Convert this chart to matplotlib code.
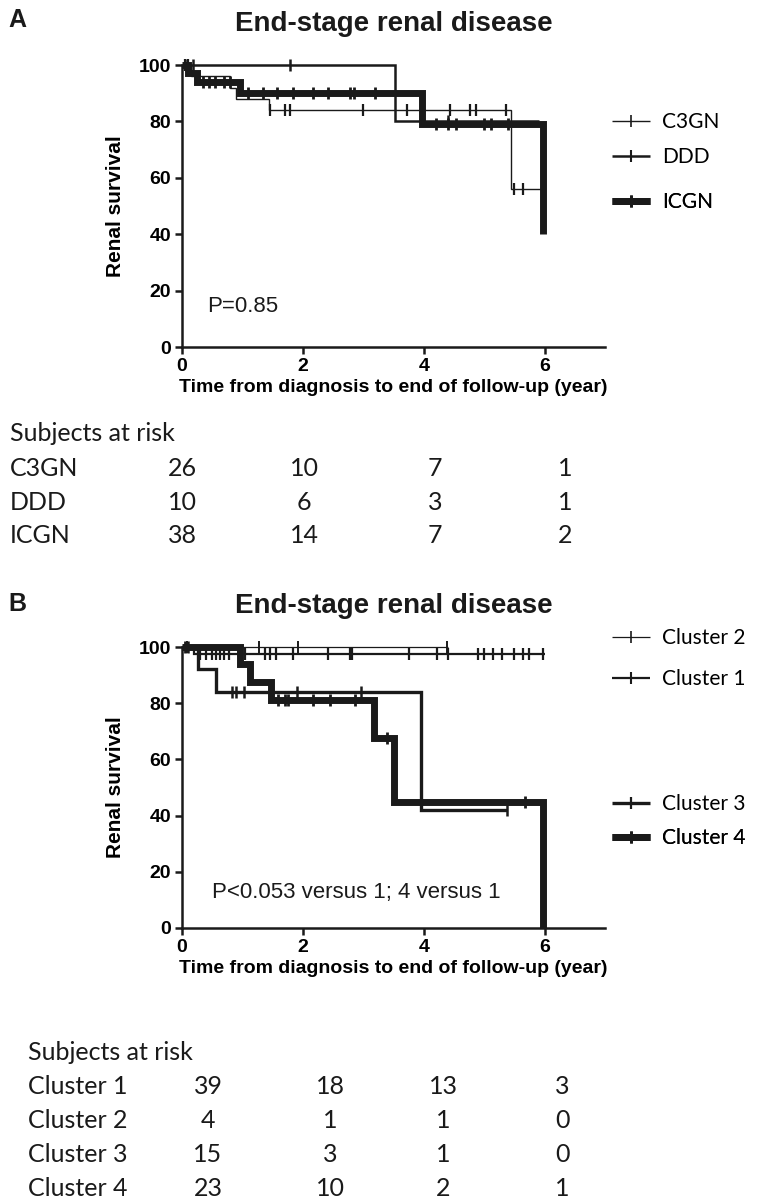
import matplotlib
matplotlib.use('Agg')
import matplotlib.pyplot as plt
from matplotlib.lines import Line2D

W, H = 760, 1201
ink = '#1a1a1a'
arial = 'Liberation Sans'
calibri = 'Lato'

# ---- panel A: step curves (year, survival %) ----
c3gn_t = [0, 0.15, 0.8, 0.9, 1.44, 5.44]
c3gn_s = [100, 96, 92, 88, 84, 56]
c3gn_end = 5.95
c3gn_cens_t = [0.05, 0.1, 1.46, 1.7, 1.78, 2.99, 3.73, 4.43, 4.76, 4.86, 5.36, 5.5, 5.65]
c3gn_cens_s = [100, 100, 84, 84, 84, 84, 84, 84, 84, 84, 84, 56, 56]

ddd_t = [0, 3.53]
ddd_s = [100, 80]
ddd_end = 5.9
ddd_cens_t = [0.08, 0.18, 1.79, 4.4]
ddd_cens_s = [100, 100, 100, 80]

icgn_t = [0, 0.1, 0.25, 0.96, 3.97, 5.97]
icgn_s = [100, 97, 94, 90, 79, 40]
icgn_end = 5.97
icgn_cens_t = [0.35, 0.45, 0.55, 0.7, 0.8, 1.09, 1.34, 1.57, 1.83, 2.17, 2.41, 2.78, 2.84, 3.2,
               4.21, 4.41, 4.53, 4.99, 5.12, 5.4]
icgn_cens_s = [94, 94, 94, 94, 94, 90, 90, 90, 90, 90, 90, 90, 90, 90,
               79, 79, 79, 79, 79, 79]

groups_a = ['C3GN', 'DDD', 'ICGN']
risk_a = [[26, 10, 7, 1], [10, 6, 3, 1], [38, 14, 7, 2]]

# ---- panel B ----
cl2_t = [0]
cl2_s = [100]
cl2_end = 4.4
cl2_cens_t = [0.08, 1.27, 1.92, 4.38]
cl2_cens_s = [100, 100, 100, 100]

cl1_t = [0, 0.2]
cl1_s = [100, 97.4]
cl1_end = 6.0
cl1_cens_t = [0.3, 0.4, 0.5, 0.57, 0.63, 0.7, 0.78, 1.05, 1.37, 1.45, 1.56, 1.83, 2.41, 2.78,
              2.81, 3.75, 4.22, 4.41, 4.9, 5.0, 5.15, 5.3, 5.5, 5.65, 5.75, 5.98]
cl1_cens_s = [97.4] * 26

cl3_t = [0, 0.27, 0.56, 3.96]
cl3_s = [100, 92.3, 84, 42]
cl3_end = 5.37
cl3_cens_t = [0.1, 0.82, 0.9, 1.03, 1.9, 2.97, 5.37]
cl3_cens_s = [100, 84, 84, 84, 84, 84, 42]

cl4_t = [0, 0.96, 1.12, 1.48, 3.18, 3.5, 5.97]
cl4_s = [100, 94, 87.5, 81, 67.5, 45, 0]
cl4_end = 5.97
cl4_cens_t = [0.05, 1.59, 1.7, 1.76, 2.17, 2.45, 2.86, 3.4, 5.67]
cl4_cens_s = [100, 81, 81, 81, 81, 81, 81, 67.5, 45]

groups_b = ['Cluster 1', 'Cluster 2', 'Cluster 3', 'Cluster 4']
risk_b = [[39, 18, 13, 3], [4, 1, 1, 0], [15, 3, 1, 0], [23, 10, 2, 1]]

xticks = [0, 2, 4, 6]
yticks = [0, 20, 40, 60, 80, 100]


def fx(px):
    return px / W


def fy(py):
    return 1 - py / H


def km(ax, t, s, end, ct, cs, lw, mew):
    xs = list(t) + [end]
    ys = list(s) + [s[-1]]
    ax.step(xs, ys, where='post', color=ink, lw=lw, clip_on=False,
            solid_joinstyle='miter', solid_capstyle='butt')
    ax.plot(ct, cs, ls='none', marker='|', ms=8, mew=mew, color=ink, clip_on=False)


def style_axes(ax, ptext, pxy):
    ax.set_xlim(0, 7)
    ax.set_ylim(0, 100)
    ax.set_xticks(xticks)
    ax.set_yticks(yticks)
    for side in ['top', 'right']:
        ax.spines[side].set_visible(False)
    for side in ['left', 'bottom']:
        ax.spines[side].set_linewidth(1.8)
        ax.spines[side].set_color(ink)
    ax.tick_params(width=1.8, length=5, color=ink, labelsize=14, pad=3)
    for lab in ax.get_xticklabels() + ax.get_yticklabels():
        lab.set_fontfamily(arial)
        lab.set_fontweight('bold')
    ax.set_xlabel('Time from diagnosis to end of follow-up (year)', fontsize=14,
                  fontweight='bold', family=arial, labelpad=3)
    ax.set_ylabel('Renal survival', fontsize=15, fontweight='bold', family=arial)
    ax.yaxis.set_label_coords(-0.135, 0.5)
    ax.text(pxy[0], pxy[1], ptext, transform=ax.transAxes, fontsize=16,
            family=arial, va='center', ha='left', color=ink)


def add_key(fig, ax, lw, mew, label, y_px):
    h = Line2D([], [], color=ink, lw=lw, marker='|', ms=8, mew=mew,
               solid_capstyle='butt')
    leg = ax.legend([h], [label], loc='center left', bbox_to_anchor=(fx(612), fy(y_px)),
                    bbox_transform=fig.transFigure, frameon=False, borderpad=0,
                    borderaxespad=0, handlelength=1.8, handletextpad=0.6,
                    prop={'family': calibri, 'size': 15})
    ax.add_artist(leg)


def risk_table(fig, x0, y0, cols, groups, counts):
    fig.text(fx(x0), fy(y0), 'Subjects at risk', fontsize=18, family=calibri,
             va='center', ha='left', color=ink)
    for i, (g, row) in enumerate(zip(groups, counts)):
        y = y0 + 34 * (i + 1)
        fig.text(fx(x0), fy(y), g, fontsize=18, family=calibri, va='center', ha='left', color=ink)
        for c, v in zip(cols, row):
            fig.text(fx(c), fy(y), str(v), fontsize=18, family=calibri,
                     va='center', ha='center', color=ink)


fig = plt.figure(figsize=(W / 100, H / 100), dpi=100)

# panel A
axA = fig.add_axes([fx(182), fy(347), fx(605) - fx(182), fy(65) - fy(347)])
km(axA, icgn_t, icgn_s, icgn_end, icgn_cens_t, icgn_cens_s, 5.0, 2.0)
km(axA, ddd_t, ddd_s, ddd_end, ddd_cens_t, ddd_cens_s, 1.8, 1.8)
km(axA, c3gn_t, c3gn_s, c3gn_end, c3gn_cens_t, c3gn_cens_s, 1.0, 1.6)
style_axes(axA, 'P=0.85', (0.06, 0.145))
add_key(fig, axA, 1.0, 1.2, 'C3GN', 122)
add_key(fig, axA, 1.8, 1.5, 'DDD', 157)
add_key(fig, axA, 5.0, 2.0, 'ICGN', 202)

fig.text(fx(394), fy(24), 'End-stage renal disease', fontsize=20, fontweight='bold',
         family=arial, ha='center', va='center', color=ink)
fig.text(fx(8), fy(20), 'A', fontsize=18, fontweight='bold', family=arial,
         ha='left', va='center', color=ink)
risk_table(fig, 10, 434, [182, 304, 435, 565], groups_a, risk_a)

# panel B
axB = fig.add_axes([fx(182), fy(928), fx(605) - fx(182), fy(647) - fy(928)])
km(axB, cl4_t, cl4_s, cl4_end, cl4_cens_t, cl4_cens_s, 5.0, 2.0)
km(axB, cl3_t, cl3_s, cl3_end, cl3_cens_t, cl3_cens_s, 2.4, 1.8)
km(axB, cl1_t, cl1_s, cl1_end, cl1_cens_t, cl1_cens_s, 1.6, 1.6)
km(axB, cl2_t, cl2_s, cl2_end, cl2_cens_t, cl2_cens_s, 0.9, 1.4)
style_axes(axB, 'P<0.053 versus 1; 4 versus 1', (0.07, 0.125))
add_key(fig, axB, 0.9, 1.2, 'Cluster 2', 638)
add_key(fig, axB, 1.6, 1.5, 'Cluster 1', 679)
add_key(fig, axB, 2.4, 1.6, 'Cluster 3', 804)
add_key(fig, axB, 5.0, 2.0, 'Cluster 4', 838)

fig.text(fx(394), fy(606), 'End-stage renal disease', fontsize=20, fontweight='bold',
         family=arial, ha='center', va='center', color=ink)
fig.text(fx(8), fy(604), 'B', fontsize=18, fontweight='bold', family=arial,
         ha='left', va='center', color=ink)
risk_table(fig, 28, 1052, [208, 330, 443, 562], groups_b, risk_b)

fig.savefig('out.png', dpi=100)
